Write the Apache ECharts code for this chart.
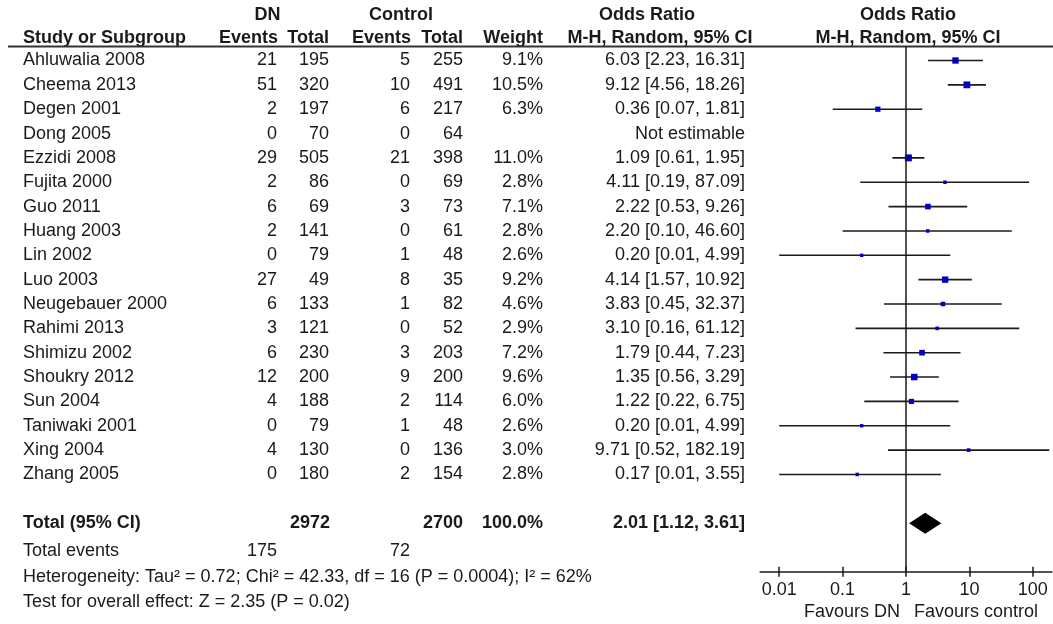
<!DOCTYPE html>
<html>
<head>
<meta charset="utf-8">
<script src="https://cdn.jsdelivr.net/npm/echarts@6/dist/echarts.min.js"></script>
<style>
  html, body { margin: 0; padding: 0; background: #fff; }
  #chart { width: 1053px; height: 624px; }
</style>
</head>
<body>
<div id="chart"></div>
<script>
// ---- Data ----
const studies = ['Ahluwalia 2008', 'Cheema 2013', 'Degen 2001', 'Dong 2005', 'Ezzidi 2008', 'Fujita 2000',
  'Guo 2011', 'Huang 2003', 'Lin 2002', 'Luo 2003', 'Neugebauer 2000', 'Rahimi 2013', 'Shimizu 2002',
  'Shoukry 2012', 'Sun 2004', 'Taniwaki 2001', 'Xing 2004', 'Zhang 2005'];
const dnEvents = [21, 51, 2, 0, 29, 2, 6, 2, 0, 27, 6, 3, 6, 12, 4, 0, 4, 0];
const dnTotal = [195, 320, 197, 70, 505, 86, 69, 141, 79, 49, 133, 121, 230, 200, 188, 79, 130, 180];
const ctlEvents = [5, 10, 6, 0, 21, 0, 3, 0, 1, 8, 1, 0, 3, 9, 2, 1, 0, 2];
const ctlTotal = [255, 491, 217, 64, 398, 69, 73, 61, 48, 35, 82, 52, 203, 200, 114, 48, 136, 154];
const weights = [9.1, 10.5, 6.3, null, 11.0, 2.8, 7.1, 2.8, 2.6, 9.2, 4.6, 2.9, 7.2, 9.6, 6.0, 2.6, 3.0, 2.8];
const oddsRatio = [6.03, 9.12, 0.36, null, 1.09, 4.11, 2.22, 2.20, 0.20, 4.14, 3.83, 3.10, 1.79, 1.35, 1.22, 0.20, 9.71, 0.17];
const ciLower = [2.23, 4.56, 0.07, null, 0.61, 0.19, 0.53, 0.10, 0.01, 1.57, 0.45, 0.16, 0.44, 0.56, 0.22, 0.01, 0.52, 0.01];
const ciUpper = [16.31, 18.26, 1.81, null, 1.95, 87.09, 9.26, 46.60, 4.99, 10.92, 32.37, 61.12, 7.23, 3.29, 6.75, 4.99, 182.19, 3.55];

const pooledOR = 2.01;
const pooledLower = 1.12;
const pooledUpper = 3.61;
const totalDN = 2972;
const totalControl = 2700;
const totalWeight = 100.0;
const totalEventsDN = 175;
const totalEventsControl = 72;

const scaleTicks = [0.01, 0.1, 1, 10, 100];
const heterogeneityText = 'Heterogeneity: Tau\u00b2 = 0.72; Chi\u00b2 = 42.33, df = 16 (P = 0.0004); I\u00b2 = 62%';
const overallEffectText = 'Test for overall effect: Z = 2.35 (P = 0.02)';
const favourLeft = 'Favours DN';
const favourRight = 'Favours control';

// ---- Layout ----
const FONT = '"Liberation Sans", Arial, Helvetica, sans-serif';
const INK = '#1a1a1a';
// table rows are in "row units" (24.35 px each, row 0 = first study)
const ROW_TOTAL = 19, ROW_EVENTS = 20.14, ROW_HET = 21.21, ROW_TEST = 22.24;
const ROW_HEAD1 = -1.87, ROW_HEAD2 = -0.92, ROW_RULE = -0.575, ROW_FAVOUR = 22.64, ROW_AXIS = 21;
const COL = {
  study: 23, dnEv: 277, dnTot: 329, ctlEv: 410, ctlTot: 463, weight: 543, orText: 745,
  dnHead: 267.5, ctlHead: 401, orHead: 647, mhHead: 660, plotHead: 908, ruleStart: 8, ruleEnd: 1053,
  favourLeftEnd: 900, favourRightStart: 914
};
const PLOT_LEFT = 760.11, PLOT_RIGHT = 1.11;

// ---- Table text cells ----
const cells = [];
function cell(x, row, text, align, bold) { cells.push({ x, row, text: String(text), align, bold: !!bold }); }

cell(COL.dnHead, ROW_HEAD1, 'DN', 'center', true);
cell(COL.ctlHead, ROW_HEAD1, 'Control', 'center', true);
cell(COL.orHead, ROW_HEAD1, 'Odds Ratio', 'center', true);
cell(COL.plotHead, ROW_HEAD1, 'Odds Ratio', 'center', true);
cell(COL.study, ROW_HEAD2, 'Study or Subgroup', 'left', true);
cell(COL.dnEv + 1, ROW_HEAD2, 'Events', 'right', true);
cell(COL.dnTot, ROW_HEAD2, 'Total', 'right', true);
cell(COL.ctlEv + 1, ROW_HEAD2, 'Events', 'right', true);
cell(COL.ctlTot, ROW_HEAD2, 'Total', 'right', true);
cell(COL.weight, ROW_HEAD2, 'Weight', 'right', true);
cell(COL.mhHead, ROW_HEAD2, 'M-H, Random, 95% CI', 'center', true);
cell(COL.plotHead, ROW_HEAD2, 'M-H, Random, 95% CI', 'center', true);

studies.forEach((name, i) => {
  cell(COL.study, i, name, 'left');
  cell(COL.dnEv, i, dnEvents[i], 'right');
  cell(COL.dnTot, i, dnTotal[i], 'right');
  cell(COL.ctlEv, i, ctlEvents[i], 'right');
  cell(COL.ctlTot, i, ctlTotal[i], 'right');
  if (weights[i] != null) cell(COL.weight, i, weights[i].toFixed(1) + '%', 'right');
  const orStr = oddsRatio[i] == null ? 'Not estimable'
    : oddsRatio[i].toFixed(2) + ' [' + ciLower[i].toFixed(2) + ', ' + ciUpper[i].toFixed(2) + ']';
  cell(COL.orText, i, orStr, 'right');
});

cell(COL.study, ROW_TOTAL, 'Total (95% CI)', 'left', true);
cell(COL.dnTot + 1, ROW_TOTAL, totalDN, 'right', true);
cell(COL.ctlTot, ROW_TOTAL, totalControl, 'right', true);
cell(COL.weight, ROW_TOTAL, totalWeight.toFixed(1) + '%', 'right', true);
cell(COL.orText, ROW_TOTAL, pooledOR.toFixed(2) + ' [' + pooledLower.toFixed(2) + ', ' + pooledUpper.toFixed(2) + ']', 'right', true);
cell(COL.study, ROW_EVENTS, 'Total events', 'left');
cell(COL.dnEv, ROW_EVENTS, totalEventsDN, 'right');
cell(COL.ctlEv, ROW_EVENTS, totalEventsControl, 'right');
cell(COL.study, ROW_HET, heterogeneityText, 'left');
cell(COL.study, ROW_TEST, overallEffectText, 'left');
cell(COL.favourLeftEnd, ROW_FAVOUR, favourLeft, 'right');
cell(COL.favourRightStart, ROW_FAVOUR, favourRight, 'left');

// ---- Forest plot data ----
const forestData = [];
studies.forEach((s, i) => {
  if (oddsRatio[i] != null) forestData.push([oddsRatio[i], i, ciLower[i], ciUpper[i], weights[i]]);
});

const chart = echarts.init(document.getElementById('chart'), null, { renderer: 'canvas' });

const logAxisBase = {
  type: 'log', logBase: 10, gridIndex: 1, min: 0.005, max: 200, position: 'bottom',
  splitLine: { show: false }
};

chart.setOption({
  animation: false,
  backgroundColor: '#fff',
  grid: [
    { left: 0, right: 0, top: 11.8, bottom: 3.45, outerBoundsMode: 'none' },
    { left: PLOT_LEFT, right: PLOT_RIGHT, top: 11.8, bottom: 52.15, outerBoundsMode: 'none' }
  ],
  xAxis: [
    { type: 'value', gridIndex: 0, min: 0, max: 1053, show: false },
    // upward half of the crossing ticks
    Object.assign({}, logAxisBase, {
      axisLine: { show: false, onZero: false },
      axisTick: { show: true, inside: true, length: 5, customValues: scaleTicks, lineStyle: { color: INK, width: 1.5 } },
      axisLabel: { show: false }
    }),
    // axis line, downward ticks and labels
    Object.assign({}, logAxisBase, {
      axisLine: { show: true, onZero: false, lineStyle: { color: INK, width: 1.5 } },
      axisTick: { show: true, inside: false, length: 5, customValues: scaleTicks, lineStyle: { color: INK, width: 1.5 } },
      axisLabel: {
        show: true, customValues: scaleTicks, margin: 9, fontSize: 18, color: INK, fontFamily: FONT,
        formatter: v => String(+(+v).toPrecision(6))
      }
    })
  ],
  yAxis: [
    { type: 'value', gridIndex: 0, min: -2, max: 23, inverse: true, show: false },
    { type: 'value', gridIndex: 1, min: -2, max: 21, inverse: true, show: false }
  ],
  series: [
    // header rule
    {
      type: 'line', xAxisIndex: 0, yAxisIndex: 0, symbol: 'none', silent: true,
      data: [[COL.ruleStart, ROW_RULE], [COL.ruleEnd, ROW_RULE]],
      lineStyle: { color: '#333', width: 1.8 }
    },
    // table text
    {
      type: 'custom', xAxisIndex: 0, yAxisIndex: 0, silent: true,
      data: cells.map(c => [c.x, c.row]),
      renderItem: (params, api) => {
        const c = cells[params.dataIndex];
        const p = api.coord([c.x, c.row]);
        return {
          type: 'text', x: p[0], y: p[1],
          style: {
            text: c.text, fill: INK, align: c.align, verticalAlign: 'middle',
            fontSize: 18, fontFamily: FONT, fontWeight: c.bold ? 'bold' : 'normal'
          }
        };
      }
    },
    // line of no effect
    {
      type: 'line', xAxisIndex: 2, yAxisIndex: 1, symbol: 'none', silent: true,
      data: [[1, ROW_RULE], [1, ROW_AXIS]],
      lineStyle: { color: INK, width: 1.5 }
    },
    // study estimates: CI whiskers and weighted squares
    {
      type: 'custom', xAxisIndex: 2, yAxisIndex: 1, silent: true,
      encode: { x: [0, 2, 3], y: 1 },
      data: forestData,
      renderItem: (params, api) => {
        const row = api.value(1);
        const c = api.coord([api.value(0), row]);
        const l = api.coord([api.value(2), row]);
        const h = api.coord([api.value(3), row]);
        const s = 2.1 * Math.sqrt(api.value(4));
        return {
          type: 'group',
          children: [
            { type: 'line', shape: { x1: l[0], y1: l[1], x2: h[0], y2: h[1] }, style: { stroke: INK, lineWidth: 1.6 } },
            { type: 'rect', shape: { x: c[0] - s / 2, y: c[1] - s / 2, width: s, height: s }, style: { fill: '#0000c8' } }
          ]
        };
      }
    },
    // pooled estimate diamond
    {
      type: 'custom', xAxisIndex: 2, yAxisIndex: 1, silent: true,
      encode: { x: [0, 2, 3], y: 1 },
      data: [[pooledOR, ROW_TOTAL, pooledLower, pooledUpper]],
      renderItem: (params, api) => {
        const row = api.value(1);
        const c = api.coord([api.value(0), row]);
        const l = api.coord([api.value(2), row]);
        const h = api.coord([api.value(3), row]);
        const half = 10.5;
        return {
          type: 'polygon',
          shape: { points: [[l[0], c[1]], [c[0], c[1] - half], [h[0], c[1]], [c[0], c[1] + half]] },
          style: { fill: '#000' }
        };
      }
    }
  ]
});
</script>
</body>
</html>
